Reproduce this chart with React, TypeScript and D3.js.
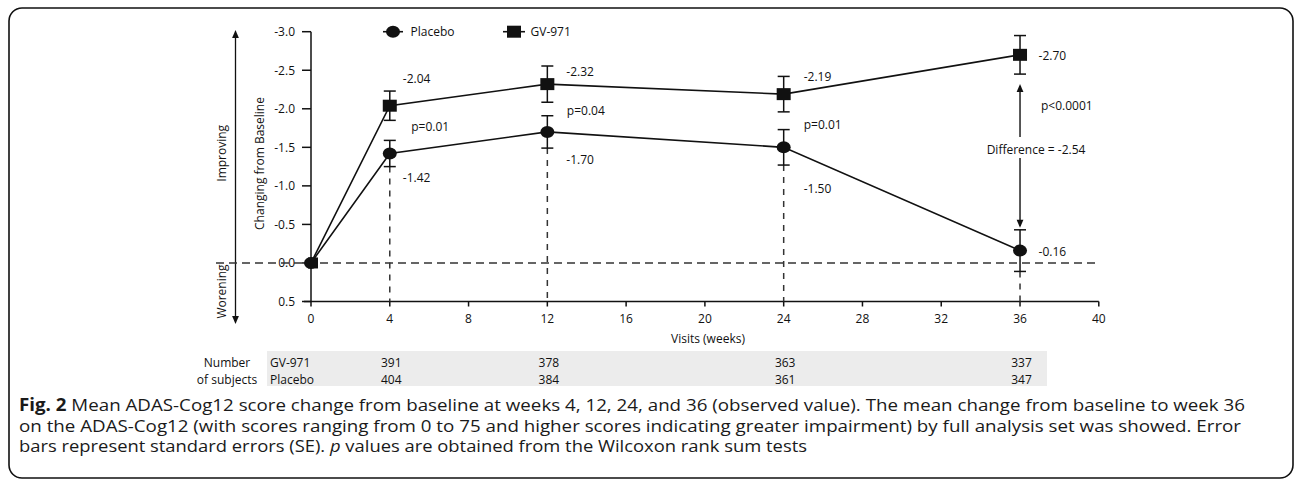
import React from "react";
import * as d3 from "d3";

// ---------- data ----------
const weeks = [0, 4, 12, 24, 36];
const gvMeans = [0, -2.04, -2.32, -2.19, -2.7];
const gvSE = [0, 0.19, 0.235, 0.23, 0.25];
const placeboMeans = [0, -1.42, -1.7, -1.5, -0.16];
const placeboSE = [0, 0.17, 0.21, 0.23, 0.27];

const xTicks = [0, 4, 8, 12, 16, 20, 24, 28, 32, 36, 40];
const yTicks = [-3, -2.5, -2, -1.5, -1, -0.5, 0, 0.5];

const pWeeks = [4, 12, 24];
const pLabels = ["p=0.01", "p=0.04", "p=0.01"];

const subjectWeeks = [4, 12, 24, 36];
const gvSubjects = [391, 378, 363, 337];
const placeboSubjects = [404, 384, 361, 347];

const finalP = "p<0.0001";
const differenceLabel = "Difference = -2.54";

const captionLines = [
  "Mean ADAS-Cog12 score change from baseline at weeks 4, 12, 24, and 36 (observed value). The mean change from baseline to week 36",
  "on the ADAS-Cog12 (with scores ranging from 0 to 75 and higher scores indicating greater impairment) by full analysis set was showed. Error",
  " values are obtained from the Wilcoxon rank sum tests",
];

// label layout (y in data units, dx in px) for annotations at weeks 4,12,24,36
const gvLabelY = [-2.39, -2.48, -2.42, -2.69];
const plLabelY = [-1.11, -1.345, -0.97, -0.147];
const pLabelY = [-1.77, -1.98, -1.8];
const labelDx = [13, 19, 20, 18.5];
const pDx = [21.5, 19.5, 20];

const FONT = "'Open Sans', sans-serif";
const INK = "#111";

const fmt = (v: number) => v.toFixed(2);
const fmt1 = (v: number) => v.toFixed(1);

export default function App() {
  const x = d3.scaleLinear().domain([0, 40]).range([311, 1098.8]);
  const y = d3.scaleLinear().domain([-3, 0.5]).range([31.7, 301.5]);

  const line = d3
    .line<number>()
    .x((_, i) => x(weeks[i]))
    .y((d) => y(d));

  const arrowUp = (cx: number, tipY: number) =>
    `M${cx},${tipY} L${cx - 3.4},${tipY + 8} L${cx + 3.4},${tipY + 8} Z`;
  const arrowDown = (cx: number, tipY: number) =>
    `M${cx},${tipY} L${cx - 3.4},${tipY - 8} L${cx + 3.4},${tipY - 8} Z`;

  const base = (cy: number, fs: number) => cy + fs * 0.36;

  const capHalf = 6;
  const errorBar = (cx: number, m: number, se: number, key: string) => {
    if (se === 0) return null;
    const y1 = y(m - se);
    const y2 = y(m + se);
    return (
      <g key={key} stroke={INK} strokeWidth={1.5}>
        <line x1={cx} x2={cx} y1={y1} y2={y2} />
        <line x1={cx - capHalf} x2={cx + capHalf} y1={y1} y2={y1} />
        <line x1={cx - capHalf} x2={cx + capHalf} y1={y2} y2={y2} />
      </g>
    );
  };

  const axisLeftX = x(0);
  const axisBottomY = y(0.5);
  const arrowX = 235.5;
  const lastIdx = weeks.length - 1;
  const diffX = x(weeks[lastIdx]);
  const gvLow = y(gvMeans[lastIdx] + gvSE[lastIdx]);
  const plHigh = y(placeboMeans[lastIdx] - placeboSE[lastIdx]);
  const diffLabelY = 150;

  return (
    <svg
      width={1295}
      height={485}
      style={{ position: "absolute", left: 0, top: 0, background: "#fff" }}
      fontFamily={FONT}
    >
      {/* frame */}
      <rect x={9} y={8} width={1284} height={470} rx={13} fill="#fff" stroke={INK} strokeWidth={1.6} />

      {/* improving / worsening arrow */}
      <line x1={arrowX} x2={arrowX} y1={37} y2={317} stroke={INK} strokeWidth={1.3} />
      <path d={arrowUp(arrowX, 30)} fill={INK} />
      <path d={arrowDown(arrowX, 324)} fill={INK} />
      <text transform={`translate(221.5,153.3) rotate(-90)`} textAnchor="middle" dy="0.36em" fontSize={12} fill={INK}>
        Improving
      </text>
      <text transform={`translate(221.5,291.5) rotate(-90)`} textAnchor="middle" dy="0.36em" fontSize={12} fill={INK}>
        Worening
      </text>
      <text transform={`translate(260,163.5) rotate(-90)`} textAnchor="middle" dy="0.36em" fontSize={12} fill={INK}>
        Changing from Baseline
      </text>

      {/* y axis */}
      <line x1={axisLeftX} x2={axisLeftX} y1={y(-3)} y2={axisBottomY} stroke={INK} strokeWidth={1.5} />
      {yTicks.map((t) => (
        <g key={"yt" + t}>
          <line x1={axisLeftX - 9} x2={axisLeftX} y1={y(t)} y2={y(t)} stroke={INK} strokeWidth={1.5} />
          <text x={295} y={base(y(t), 12)} textAnchor="end" fontSize={12} fill={INK}>
            {fmt1(t)}
          </text>
        </g>
      ))}

      {/* x axis */}
      <line x1={axisLeftX - 7} x2={x(40)} y1={axisBottomY} y2={axisBottomY} stroke={INK} strokeWidth={1.5} />
      {xTicks.map((t) => (
        <g key={"xt" + t}>
          <line x1={x(t)} x2={x(t)} y1={axisBottomY} y2={axisBottomY + 5} stroke={INK} strokeWidth={1.5} />
          <text x={x(t)} y={base(319, 12)} textAnchor="middle" fontSize={12} fill={INK}>
            {t}
          </text>
        </g>
      ))}
      <text x={708} y={base(339, 12)} textAnchor="middle" fontSize={12} fill={INK}>
        Visits (weeks)
      </text>

      {/* zero dashed line */}
      <line x1={216} x2={1100} y1={y(0)} y2={y(0)} stroke="#333" strokeWidth={1.5} strokeDasharray="8,5" />

      {/* vertical dashed lines */}
      {weeks.map((w, i) =>
        i === 0 ? null : (
          <line
            key={"vd" + w}
            x1={x(w)}
            x2={x(w)}
            y1={y(placeboMeans[i] + placeboSE[i])}
            y2={axisBottomY}
            stroke="#333"
            strokeWidth={1.5}
            strokeDasharray="6,6"
          />
        )
      )}

      {/* series lines */}
      <path d={line(placeboMeans) || ""} fill="none" stroke={INK} strokeWidth={1.6} />
      <path d={line(gvMeans) || ""} fill="none" stroke={INK} strokeWidth={1.6} />

      {/* error bars */}
      {weeks.map((w, i) => errorBar(x(w), placeboMeans[i], placeboSE[i], "pe" + i))}
      {weeks.map((w, i) => errorBar(x(w), gvMeans[i], gvSE[i], "ge" + i))}

      {/* markers */}
      {weeks.map((w, i) => (
        <ellipse key={"pm" + i} cx={x(w)} cy={y(placeboMeans[i])} rx={7} ry={6} fill={INK} />
      ))}
      {weeks.map((w, i) => (
        <rect
          key={"gm" + i}
          x={x(w) - (i === 0 ? 5 : 7) + (i === 0 ? 2 : 0)}
          y={y(gvMeans[i]) - (i === 0 ? 5.5 : 6)}
          width={i === 0 ? 10 : 14}
          height={i === 0 ? 11 : 12}
          fill={INK}
        />
      ))}

      {/* value labels */}
      {subjectWeeks.map((w, i) => (
        <g key={"lab" + w} fontSize={12} fill={INK}>
          <text x={x(w) + labelDx[i]} y={base(y(gvLabelY[i]), 12)}>
            {fmt(gvMeans[i + 1])}
          </text>
          <text x={x(w) + labelDx[i]} y={base(y(plLabelY[i]), 12)}>
            {fmt(placeboMeans[i + 1])}
          </text>
        </g>
      ))}
      {pWeeks.map((w, i) => (
        <text key={"p" + i} x={x(w) + pDx[i]} y={base(y(pLabelY[i]), 12)} fontSize={12} fill={INK}>
          {pLabels[i]}
        </text>
      ))}

      {/* difference arrow */}
      <line x1={diffX} x2={diffX} y1={gvLow + 12} y2={diffLabelY - 13} stroke={INK} strokeWidth={1.4} />
      <path d={arrowUp(diffX, gvLow + 10)} fill={INK} />
      <line x1={diffX} x2={diffX} y1={diffLabelY + 8} y2={plHigh - 4} stroke={INK} strokeWidth={1.4} />
      <path d={arrowDown(diffX, plHigh - 2)} fill={INK} />
      <text x={diffX + 16} y={base(diffLabelY, 12)} textAnchor="middle" fontSize={12} fill={INK}>
        {differenceLabel}
      </text>
      <text x={diffX + 21} y={base(106, 12)} fontSize={12} fill={INK}>
        {finalP}
      </text>

      {/* legend */}
      <g>
        <line x1={383} x2={403} y1={31.7} y2={31.7} stroke={INK} strokeWidth={1.6} />
        <ellipse cx={393} cy={31.7} rx={7} ry={6} fill={INK} />
        <text x={410.5} y={base(31.7, 12)} fontSize={12} fill={INK}>
          Placebo
        </text>
        <line x1={503} x2={525} y1={31.7} y2={31.7} stroke={INK} strokeWidth={1.6} />
        <rect x={507} y={25.7} width={14} height={12} fill={INK} />
        <text x={530.5} y={base(31.7, 12)} fontSize={12} fill={INK}>
          GV-971
        </text>
      </g>

      {/* number of subjects table */}
      <rect x={267} y={351} width={780} height={35} fill="#ececec" />
      <text x={227} y={base(362.7, 12)} textAnchor="middle" fontSize={12} fill={INK}>
        Number
      </text>
      <text x={227} y={base(379.3, 12)} textAnchor="middle" fontSize={12} fill={INK}>
        of subjects
      </text>
      <text x={270} y={base(362.7, 12)} fontSize={12} fill={INK}>
        GV-971
      </text>
      <text x={270} y={base(379.3, 12)} fontSize={12} fill={INK}>
        Placebo
      </text>
      {subjectWeeks.map((w, i) => (
        <g key={"sub" + w} fontSize={12} fill={INK} textAnchor="middle">
          <text x={x(w) + 1.5} y={base(362.7, 12)}>{gvSubjects[i]}</text>
          <text x={x(w) + 1.5} y={base(379.3, 12)}>{placeboSubjects[i]}</text>
        </g>
      ))}

      {/* caption */}
      <g fontSize={17} fill="#1a1a1a">
        <text x={19} y={411} textLength={1226} lengthAdjust="spacingAndGlyphs">
          <tspan fontWeight="bold">Fig. 2</tspan> {captionLines[0]}
        </text>
        <text x={19} y={431.5} textLength={1222} lengthAdjust="spacingAndGlyphs">
          {captionLines[1]}
        </text>
        <text x={19} y={452} textLength={788} lengthAdjust="spacingAndGlyphs">
          bars represent standard errors (SE). <tspan fontStyle="italic">p</tspan>
          {captionLines[2]}
        </text>
      </g>
    </svg>
  );
}
